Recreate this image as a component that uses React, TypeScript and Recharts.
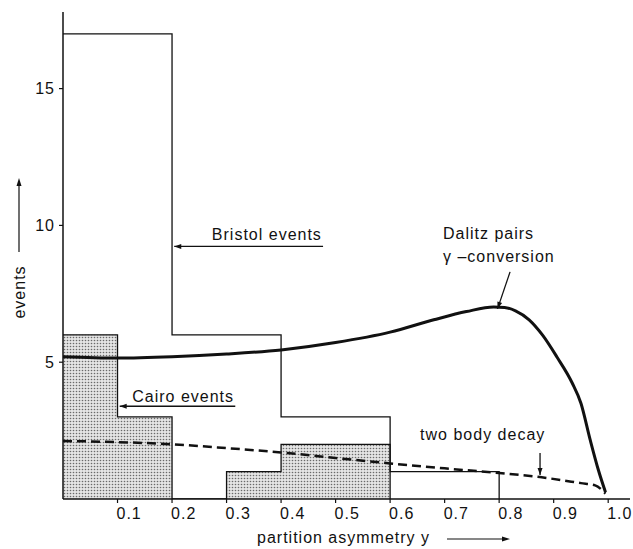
import { ComposedChart, Area, Line, XAxis, YAxis, ReferenceLine, ReferenceDot, Label } from "recharts";

// histogram bin left edges and counts (last edge closes the histogram)
const cairoEdges = [0, 0.1, 0.2, 0.3, 0.4, 0.6];
const cairoCounts = [6, 3, 0, 1, 2, 0];
const bristolEdges = [0, 0.2, 0.4, 0.6, 0.8];
const bristolCounts = [17, 6, 3, 1, 0];

// Dalitz pairs / gamma-conversion curve
const dalitzX = [0, 0.1, 0.2, 0.3, 0.4, 0.5, 0.6, 0.68, 0.74, 0.79, 0.81, 0.83, 0.855, 0.88, 0.906, 0.934, 0.95, 0.967, 0.982, 0.995];
const dalitzY = [5.2, 5.15, 5.2, 5.3, 5.45, 5.72, 6.1, 6.55, 6.85, 7.02, 7.0, 6.88, 6.55, 5.98, 5.19, 4.24, 3.5, 2.16, 1.06, 0.25];

// two body decay curve
const twoBodyX = [0, 0.1, 0.2, 0.3, 0.4, 0.5, 0.6, 0.7, 0.8, 0.875, 0.95, 0.976, 0.995];
const twoBodyY = [2.12, 2.08, 2.0, 1.86, 1.7, 1.5, 1.3, 1.12, 0.95, 0.8, 0.58, 0.5, 0.2];

const xTicks = [0.1, 0.2, 0.3, 0.4, 0.5, 0.6, 0.7, 0.8, 0.9, 1.0];
const yTicks = [5, 10, 15];

// annotations in data units: arrow tip first, then tail
const arrows = [
  { tip: { x: 0.204, y: 9.23 }, tail: { x: 0.477, y: 9.23 } },
  { tip: { x: 0.104, y: 3.39 }, tail: { x: 0.316, y: 3.39 } },
  { tip: { x: 0.797, y: 6.95 }, tail: { x: 0.82, y: 8.3 } },
  { tip: { x: 0.875, y: 0.88 }, tail: { x: 0.875, y: 1.68 } },
];
const notes = [
  { x: 0.273, y: 9.65, text: "Bristol events" },
  { x: 0.127, y: 3.73, text: "Cairo events" },
  { x: 0.697, y: 9.72, text: "Dalitz pairs" },
  { x: 0.697, y: 8.85, text: "γ –conversion" },
  { x: 0.655, y: 2.34, text: "two body decay" },
];

const ink = "#111";
const font = "'Liberation Sans', Arial, sans-serif";

const cairo = cairoEdges.map((x, i) => ({ x, count: cairoCounts[i] }));
const bristol = bristolEdges.map((x, i) => ({ x, count: bristolCounts[i] }));
const dalitz = dalitzX.map((x, i) => ({ x, v: dalitzY[i] }));
const twoBody = twoBodyX.map((x, i) => ({ x, v: twoBodyY[i] }));

const ArrowShape = (p: any) => {
  const { x1, y1, x2, y2 } = p;
  const len = Math.hypot(x2 - x1, y2 - y1) || 1;
  const ux = (x2 - x1) / len;
  const uy = (y2 - y1) / len;
  const h = 7;
  const w = 2.5;
  const bx = x1 + ux * h;
  const by = y1 + uy * h;
  return (
    <g>
      <line x1={x1} y1={y1} x2={x2} y2={y2} stroke={ink} strokeWidth={1.3} />
      <polygon
        points={`${x1},${y1} ${bx - uy * w},${by + ux * w} ${bx + uy * w},${by - ux * w}`}
        fill={ink}
      />
    </g>
  );
};

const XTick = (p: any) => (
  <text x={p.x - 1} y={p.y} dy="0.71em" textAnchor="start" fontSize={16} fontFamily={font} fill={ink} letterSpacing={1}>
    {Number(p.payload.value).toFixed(1)}
  </text>
);

const YTitle = (p: any) => {
  const vb = p.viewBox ?? { x: 0, y: 12, width: 63, height: 487 };
  const cx = vb.x + 19;
  const top = vb.y + 166;
  const bot = vb.y + 240;
  const cy = vb.y + 280;
  return (
    <g>
      <line x1={cx} y1={bot} x2={cx} y2={top + 6} stroke={ink} strokeWidth={1.2} />
      <polygon points={`${cx},${top} ${cx - 2.5},${top + 8} ${cx + 2.5},${top + 8}`} fill={ink} />
      <text x={cx} y={cy} transform={`rotate(-90 ${cx} ${cy})`} textAnchor="middle" dominantBaseline="central" fontSize={16} fontFamily={font} fill={ink} letterSpacing={1}>
        events
      </text>
    </g>
  );
};

const XTitle = (p: any) => {
  const vb = p.viewBox ?? { x: 63, y: 499, width: 567, height: 50 };
  const tx = vb.x + 194;
  const ty = vb.y + 38;
  const a0 = vb.x + 384;
  const a1 = vb.x + 447;
  return (
    <g>
      <text x={tx} y={ty} dominantBaseline="central" fontSize={16} fontFamily={font} fill={ink} letterSpacing={1}>
        partition asymmetry y
      </text>
      <line x1={a0} y1={ty + 2} x2={a1 - 6} y2={ty + 2} stroke={ink} strokeWidth={1.2} />
      <polygon points={`${a1},${ty + 2} ${a1 - 8},${ty - 0.5} ${a1 - 8},${ty + 4.5}`} fill={ink} />
    </g>
  );
};

const NoteText = (text: string) => (p: any) => (
  <text x={p.cx} y={p.cy} dominantBaseline="central" fontSize={16} fontFamily={font} fill={ink} letterSpacing={1}>
    {text}
  </text>
);

export default function App() {
  return (
    <div style={{ position: "absolute", left: 0, top: 0, background: "#fff" }}>
      <ComposedChart width={633} height={549} margin={{ top: 12, right: 3, left: 0, bottom: 0 }}>
        <defs>
          <pattern id="stipple" width="3" height="3" patternUnits="userSpaceOnUse">
            <rect width="3" height="3" fill="#e4e4e4" />
            <circle cx="1.5" cy="1.5" r="0.8" fill="#6a6a6a" />
          </pattern>
        </defs>
        <XAxis
          type="number"
          dataKey="x"
          domain={[0, 1.04]}
          ticks={xTicks}
          allowDataOverflow
          height={50}
          tickSize={4}
          tickMargin={5}
          tick={<XTick />}
          axisLine={{ stroke: ink, strokeWidth: 1.5 }}
          tickLine={{ stroke: ink, strokeWidth: 1.2 }}
        >
          <Label content={<XTitle />} />
        </XAxis>
        <YAxis
          type="number"
          domain={[0, 17.8]}
          ticks={yTicks}
          allowDataOverflow
          width={63}
          tickSize={4}
          tickMargin={4}
          tick={{ fontSize: 16, fontFamily: font, fill: ink, letterSpacing: 1 }}
          axisLine={{ stroke: ink, strokeWidth: 1.5 }}
          tickLine={{ stroke: ink, strokeWidth: 1.2 }}
        >
          <Label content={<YTitle />} />
        </YAxis>
        <Area
          data={cairo}
          dataKey="count"
          type="stepAfter"
          fill="url(#stipple)"
          fillOpacity={1}
          stroke={ink}
          strokeWidth={1.3}
          isAnimationActive={false}
        />
        <Area
          data={bristol}
          dataKey="count"
          type="stepAfter"
          fill="none"
          stroke={ink}
          strokeWidth={1.3}
          isAnimationActive={false}
        />
        <Line
          data={twoBody}
          dataKey="v"
          type="monotone"
          stroke={ink}
          strokeWidth={2.5}
          strokeDasharray="9 5"
          dot={false}
          isAnimationActive={false}
        />
        <Line
          data={dalitz}
          dataKey="v"
          type="monotone"
          stroke={ink}
          strokeWidth={3}
          dot={false}
          isAnimationActive={false}
        />
        {arrows.map((a, i) => (
          <ReferenceLine key={`a-${i}`} segment={[a.tip, a.tail]} stroke={ink} shape={ArrowShape} />
        ))}
        {notes.map((n, i) => (
          <ReferenceDot key={`n-${i}`} x={n.x} y={n.y} r={0} shape={NoteText(n.text)} />
        ))}
      </ComposedChart>
    </div>
  );
}
